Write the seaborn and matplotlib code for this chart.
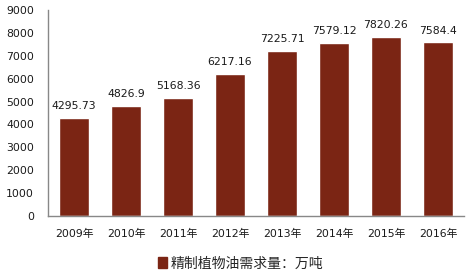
import matplotlib
matplotlib.use("Agg")
import matplotlib.pyplot as plt
import seaborn as sns
import pandas as pd
from matplotlib.patches import Patch

years = ["2009年", "2010年", "2011年", "2012年", "2013年", "2014年", "2015年", "2016年"]
values = [4295.73, 4826.9, 5168.36, 6217.16, 7225.71, 7579.12, 7820.26, 7584.4]
labels = ["4295.73", "4826.9", "5168.36", "6217.16", "7225.71", "7579.12", "7820.26", "7584.4"]
yticks = [0, 1000, 2000, 3000, 4000, 5000, 6000, 7000, 8000, 9000]
legend_label = "精制植物油需求量：万吨"

sns.set_theme(style="white")
plt.rcParams['font.family'] = ['DejaVu Sans', 'Noto Sans CJK SC']

color = "#7B2514"
txt = "#1a1a1a"
df = pd.DataFrame({"year": years, "value": values})

fig = plt.figure(figsize=(4.71, 2.73), dpi=100)
ax = fig.add_axes([0.102, 0.209, 0.883, 0.754])
sns.barplot(data=df, x="year", y="value", color=color, width=0.58, ax=ax, saturation=1)

ax.set_ylim(0, 9000)
ax.set_yticks(yticks)
ax.set_yticklabels([str(t) for t in yticks], fontsize=7.8, color=txt)
ax.set_xlabel("")
ax.set_ylabel("")
ax.tick_params(axis="x", labelsize=7.8, colors=txt, pad=9, length=0)
ax.tick_params(axis="y", pad=10, length=0)
for s in ["top", "right"]:
    ax.spines[s].set_visible(False)
for s in ["left", "bottom"]:
    ax.spines[s].set_color("#888888")
    ax.spines[s].set_linewidth(1)

for i, (v, l) in enumerate(zip(values, labels)):
    ax.annotate(l, (i, v), xytext=(0, 5), textcoords="offset points",
                ha="center", va="bottom", fontsize=7.8, color=txt)

handle = Patch(facecolor=color, edgecolor=color)
fig.legend([handle], [legend_label], loc="center", bbox_to_anchor=(0.51, 0.035),
           frameon=False, handlelength=0.7, handleheight=0.9,
           handletextpad=0.2, prop={"family": ["Noto Sans CJK SC"], "size": 10})

fig.savefig("out.png", dpi=100)
